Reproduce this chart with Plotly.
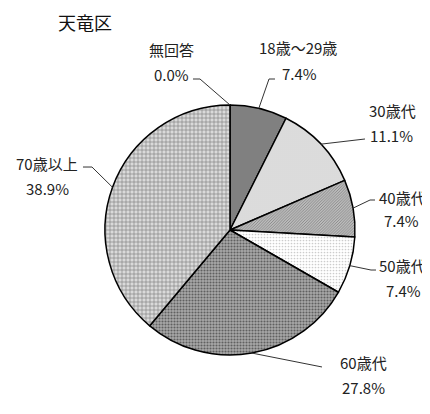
import math
import plotly.graph_objects as go

# --- data ---
labels = ["無回答", "18歳～29歳", "30歳代", "40歳代", "50歳代", "60歳代", "70歳以上"]
percents = [0.0, 7.4, 11.1, 7.4, 7.4, 27.8, 38.9]
title_text = "天竜区"

# --- styles (one per slice) ---
pat_shape = ["", "", ".", "/", ".", ".", "+"]
pat_bg = ["#ffffff", "#808080", "#f2f2f2", "#bcbcbc", "#ffffff", "#a8a8a8", "#dadada"]
pat_fg = ["#ffffff", "#808080", "#b4b4b4", "#777777", "#cccccc", "#606060", "#808080"]
pat_size = [4, 4, 2, 2, 3, 3, 4]
pat_solid = [0.3, 0.3, 0.35, 0.35, 0.25, 0.4, 0.3]

W, H = 430, 414
OFF = 8  # page body margin, everything is shifted by this in the screenshot
CX, CY, R = 230, 230, 125  # pie centre / radius in screen pixels

# screen-pixel layout for the labels: (name centre, percent centre)
name_pos = [(171, 49), (298, 48), (392, 110), (402, 197), (402, 265), (363, 362), (47, 163)]
pct_pos = [(171, 74), (299, 73), (391, 135), (401, 221), (403, 290), (363, 387), (47, 189)]
# leader line points after the slice edge point
leader_pts = [[(200, 79), (193, 79)], [(269, 79), (275, 79)], [(365, 139)],
              [(370, 200), (375, 200)], [(371, 270), (376, 270)], [(322, 367)],
              [(92, 167), (83, 167)]]


def px(x, y):
    return (x - OFF) / W, 1 - (y - OFF) / H


x0, y1 = px(CX - R, CY - R)
x1, y0 = px(CX + R, CY + R)

fig = go.Figure(go.Pie(
    labels=labels,
    values=percents,
    sort=False,
    direction="clockwise",
    rotation=0,
    textinfo="none",
    hoverinfo="label+percent",
    showlegend=False,
    domain=dict(x=[x0, x1], y=[y0, y1]),
    marker=dict(
        colors=pat_bg,
        line=dict(color="black", width=1.5),
        pattern=dict(shape=pat_shape, fillmode="replace", bgcolor=pat_bg,
                     fgcolor=pat_fg, size=pat_size, solidity=pat_solid),
    ),
))

total = sum(percents)
cum = 0.0
shapes = []
annotations = []
for i, (lab, val) in enumerate(zip(labels, percents)):
    mid = (cum + val / 2) / total * 2 * math.pi
    cum += val
    edge = (CX + R * math.sin(mid), CY - R * math.cos(mid))
    path = ""
    for j, (x, y) in enumerate([edge] + leader_pts[i]):
        fx, fy = px(x, y)
        path += ("M" if j == 0 else " L") + f" {fx:.4f},{fy:.4f}"
    shapes.append(dict(type="path", path=path, xref="paper", yref="paper",
                       line=dict(color="#333333", width=1)))
    for pos, txt in ((name_pos[i], lab), (pct_pos[i], f"{val:.1f}%")):
        ax, ay = px(*pos)
        annotations.append(dict(
            x=ax, y=ay, xref="paper", yref="paper", showarrow=False,
            xanchor="center", yanchor="middle", text=txt,
            font=dict(size=15, color="#222222"),
        ))

tx, ty = px(85, 22)
annotations.append(dict(
    x=tx, y=ty, xref="paper", yref="paper", showarrow=False,
    xanchor="center", yanchor="middle", text=title_text,
    font=dict(size=18, color="#111111"),
))

fig.update_layout(
    width=W, height=H,
    margin=dict(l=0, r=0, t=0, b=0),
    paper_bgcolor="white",
    font=dict(family="Noto Sans CJK JP, sans-serif"),
    shapes=shapes,
    annotations=annotations,
)

fig.write_html("out.html")
